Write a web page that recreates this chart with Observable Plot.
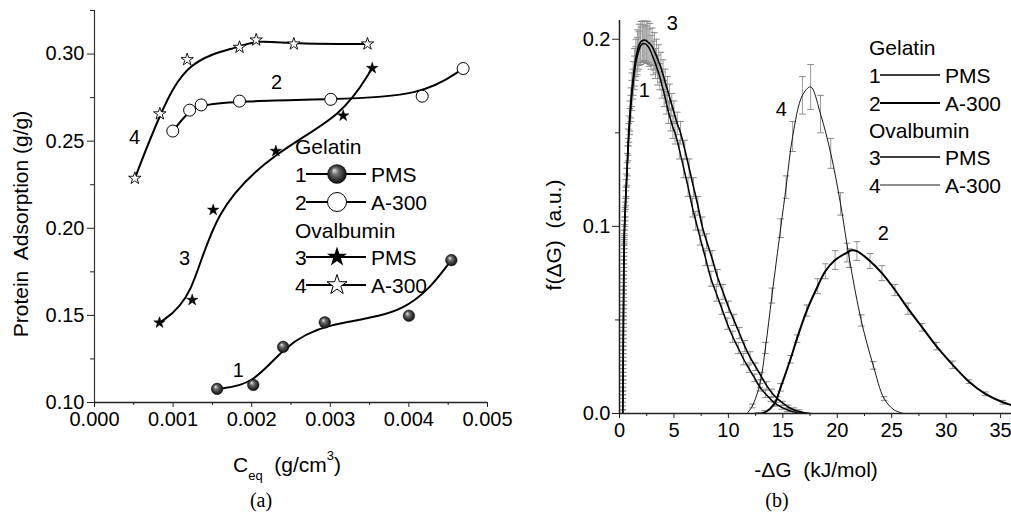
<!DOCTYPE html>
<html>
<head>
<meta charset="utf-8">
<script src="https://cdn.jsdelivr.net/npm/d3@7"></script>
<script src="https://cdn.jsdelivr.net/npm/@observablehq/plot@0.6"></script>
<style>
html,body{margin:0;padding:0;background:#fff;}
#wrap{position:relative;width:1011px;height:513px;overflow:hidden;background:#fff;}
#wrap > svg{position:absolute;top:0;}
</style>
</head>
<body>
<div id="wrap"></div>
<script>
// ================= Panel (a): adsorption isotherms =================
// [Ceq (g/cm3), adsorption (g/g)]
const gelatinPMS_a  = [[0.00156,0.1078],[0.00202,0.1101],[0.00240,0.1319],[0.00293,0.1460],[0.00400,0.1498],[0.00454,0.1817]];
const gelatinA300_a = [[0.000996,0.2558],[0.00121,0.2678],[0.001357,0.2708],[0.001845,0.2730],[0.003006,0.2740],[0.004169,0.2758],[0.00469,0.2917]];
const ovalPMS_a     = [[0.000827,0.1458],[0.001243,0.1588],[0.00151,0.2105],[0.002307,0.2443],[0.003164,0.2646],[0.003533,0.2919]];
const ovalA300_a    = [[0.000513,0.2287],[0.000831,0.2657],[0.001179,0.2968],[0.001845,0.3039],[0.002057,0.3081],[0.002536,0.3058],[0.003473,0.3058]];
const xTicksA = [0, 0.001, 0.002, 0.003, 0.004, 0.005];
const xMinorA = [0.0005, 0.0015, 0.0025, 0.0035, 0.0045];
const yTicksA = [0.10, 0.15, 0.20, 0.25, 0.30];
const yMinorA = [0.125, 0.175, 0.225, 0.275, 0.325];
const curveLabelsA = [
  {t: "1", x: 0.00183, y: 0.1183},
  {t: "2", x: 0.002316, y: 0.2838},
  {t: "3", x: 0.001145, y: 0.1825},
  {t: "4", x: 0.000509, y: 0.2518}
];

// ================= Panel (b): distribution functions =================
// [-dG (kJ/mol), f(dG), error]
const gelatinPMS_b = [
  [0.29,0.000,0.002],[0.30,0.006,0.004],[0.305,0.010,0.004],[0.31,0.014,0.004],[0.315,0.018,0.004],[0.32,0.022,0.004],
  [0.325,0.026,0.004],[0.33,0.030,0.004],[0.335,0.034,0.004],[0.34,0.038,0.004],[0.345,0.042,0.004],[0.35,0.046,0.004],
  [0.355,0.050,0.004],[0.36,0.054,0.004],[0.365,0.058,0.004],[0.37,0.062,0.004],[0.375,0.066,0.004],[0.38,0.070,0.004],
  [0.385,0.074,0.004],[0.39,0.078,0.004],[0.40,0.082,0.004],[0.41,0.086,0.004],[0.42,0.090,0.004],[0.43,0.094,0.004],
  [0.45,0.098,0.005],[0.48,0.103,0.005],[0.52,0.108,0.005],[0.56,0.114,0.005],[0.61,0.120,0.005],[0.66,0.126,0.005],
  [0.72,0.133,0.006],[0.79,0.141,0.006],[0.86,0.149,0.006],[0.94,0.156,0.007],[1.03,0.163,0.007],[1.13,0.170,0.008],
  [1.24,0.176,0.008],[1.36,0.182,0.009],[1.49,0.187,0.009],[1.63,0.191,0.010],[1.78,0.194,0.010],[1.95,0.1965,0.010],
  [2.18,0.1977,0.010],[2.35,0.1975,0.010],[2.5,0.197,0.010],[2.7,0.1955,0.010],[2.9,0.193,0.009],[3.1,0.190,0.009],
  [3.3,0.187,0.008],[3.5,0.1835,0.008],[3.7,0.180,0.007],[3.9,0.1755,0.007],[4.1,0.171,0.007],[4.3,0.166,0.006],
  [4.5,0.161,0.006],[4.7,0.157,0.006],[4.9,0.153,0.006],[5.1,0.150,0.006],[5.5,0.141,0.005],[5.9,0.131,0.005],
  [6.3,0.121,0.005],[6.7,0.110,0.005],[7.0,0.103,0.005],[7.4,0.094,0.004],[7.9,0.083,0.004],[8.4,0.072,0.004],
  [8.9,0.064,0.004],[9.4,0.056,0.003],[9.9,0.048,0.003],[10.4,0.041,0.003],[10.9,0.035,0.003],[11.4,0.029,0.003],
  [11.9,0.024,0.002],[12.4,0.019,0.002],[12.9,0.014,0.002],[13.4,0.0105,0.002],[13.9,0.0075,0.001],[14.4,0.005,0.001],
  [14.9,0.0033,0.001],[15.4,0.002,0.001],[15.9,0.001,0.001],[16.4,0.0003,0],[16.9,0,0]
];
const ovalPMS_b = [
  [0.30,0.000,0.002],[0.31,0.004,0.004],[0.315,0.008,0.004],[0.32,0.012,0.004],[0.325,0.016,0.004],[0.33,0.020,0.004],
  [0.335,0.024,0.004],[0.34,0.028,0.004],[0.345,0.032,0.004],[0.35,0.036,0.004],[0.355,0.040,0.004],[0.36,0.044,0.004],
  [0.365,0.048,0.004],[0.37,0.052,0.004],[0.375,0.056,0.004],[0.38,0.060,0.004],[0.385,0.064,0.004],[0.39,0.068,0.004],
  [0.395,0.072,0.004],[0.40,0.076,0.004],[0.41,0.080,0.004],[0.42,0.084,0.004],[0.43,0.088,0.004],[0.44,0.092,0.004],
  [0.45,0.096,0.005],[0.47,0.100,0.005],[0.50,0.105,0.005],[0.54,0.110,0.005],[0.58,0.116,0.005],[0.63,0.122,0.006],
  [0.68,0.128,0.006],[0.74,0.137,0.006],[0.80,0.145,0.007],[0.87,0.152,0.007],[0.95,0.159,0.008],[1.04,0.166,0.008],
  [1.14,0.173,0.009],[1.25,0.179,0.009],[1.37,0.185,0.010],[1.50,0.190,0.010],[1.65,0.194,0.011],[1.80,0.197,0.011],
  [1.95,0.1985,0.011],[2.10,0.1993,0.011],[2.27,0.1995,0.011],[2.45,0.1993,0.011],[2.6,0.1985,0.011],[2.8,0.1975,0.011],
  [3.0,0.196,0.010],[3.2,0.1935,0.010],[3.4,0.191,0.009],[3.6,0.188,0.009],[3.8,0.185,0.008],[4.0,0.181,0.008],
  [4.2,0.177,0.007],[4.4,0.173,0.007],[4.6,0.169,0.007],[4.8,0.165,0.006],[5.0,0.161,0.006],[5.3,0.155,0.006],
  [5.6,0.150,0.006],[6.0,0.141,0.005],[6.4,0.131,0.005],[6.8,0.121,0.005],[7.2,0.111,0.005],[7.6,0.100,0.005],
  [8.0,0.092,0.004],[8.5,0.083,0.004],[9.0,0.073,0.004],[9.5,0.065,0.004],[10.0,0.057,0.003],[10.5,0.050,0.003],
  [11.0,0.043,0.003],[11.5,0.036,0.003],[12.0,0.030,0.003],[12.5,0.025,0.002],[13.0,0.020,0.002],[13.5,0.015,0.002],
  [14.0,0.011,0.002],[14.5,0.008,0.001],[15.0,0.0055,0.001],[15.5,0.0035,0.001],[16.0,0.002,0.001],[16.5,0.001,0.001],
  [17.0,0.0004,0],[17.5,0,0]
];
const gelatinA300_b = [
  [12.5,0,0],[13.3,0.0005,0.001],[14.2,0.005,0.001],[14.8,0.014,0.002],[15.7,0.029,0.002],[16.3,0.040,0.002],
  [17.2,0.055,0.003],[18.2,0.068,0.004],[18.9,0.076,0.004],[19.8,0.082,0.005],[20.9,0.086,0.005],[21.3,0.0872,0],
  [21.8,0.0868,0.005],[23.0,0.0815,0.004],[24.1,0.075,0.004],[25.3,0.066,0.003],[26.5,0.056,0.003],[27.8,0.046,0.002],
  [29.1,0.036,0.002],[30.6,0.026,0.002],[32.1,0.017,0.001],[33.6,0.0105,0.001],[35.2,0.006,0.001],[36.6,0.0035,0.001]
];
const ovalA300_b = [
  [11.7,0,0],[12.2,0.004,0.001],[12.9,0.016,0.002],[13.4,0.035,0.003],[14.0,0.063,0.004],[14.8,0.099,0.005],
  [15.3,0.121,0.006],[15.9,0.148,0.008],[16.8,0.170,0.010],[17.55,0.1745,0.012],[18.46,0.160,0.010],[19.4,0.139,0.008],
  [20.3,0.112,0.006],[21.1,0.083,0.005],[22.2,0.0497,0.003],[23.3,0.0257,0.002],[24.3,0.008,0.001],[25.2,0.002,0],[26.1,0,0]
];
const xTicksB = [0, 5, 10, 15, 20, 25, 30, 35];
const xMinorB = [2.5, 7.5, 12.5, 17.5, 22.5, 27.5, 32.5];
const yTicksB = [0, 0.1, 0.2];
const yMinorB = [0.05, 0.15];
const curveLabelsB = [
  {t: "3", x: 4.84, y: 0.2084},
  {t: "1", x: 2.27, y: 0.1727},
  {t: "4", x: 14.85, y: 0.1624},
  {t: "2", x: 24.22, y: 0.0961}
];

// legend texts
const legendGroups = ["Gelatin", "Ovalbumin"];
const legendItems = [
  {n: "1", label: "PMS"}, {n: "2", label: "A-300"}, {n: "3", label: "PMS"}, {n: "4", label: "A-300"}
];

// ================= drawing =================
const FONT = '"Liberation Sans", Arial, Helvetica, sans-serif';
const wrap = document.getElementById("wrap");
const X = d => d[0], Y = d => d[1];
const capSym = {draw(ctx, size) { const w = Math.sqrt(size / Math.PI); ctx.moveTo(-w, 0); ctx.lineTo(w, 0); }};
const noText = () => "";

const plotA = Plot.plot({
  width: 500, height: 440,
  marginLeft: 94, marginRight: 13, marginTop: 10, marginBottom: 38,
  style: {fontFamily: FONT, fontSize: "20px", color: "#222", background: "transparent", overflow: "visible"},
  x: {domain: [0, 0.005]},
  y: {domain: [0.1, 0.325]},
  marks: [
    Plot.axisX({ticks: xTicksA, tickSize: 5, tickPadding: 4, tickFormat: d3.format(".3f"), label: null, fill: "#000"}),
    Plot.axisX({ticks: xMinorA, tickSize: 3, tickFormat: noText, label: null}),
    Plot.axisY({ticks: yTicksA, tickSize: 7, tickPadding: 3, tickFormat: d3.format(".2f"), label: null, fill: "#000"}),
    Plot.axisY({ticks: yMinorA, tickSize: 4, tickFormat: noText, label: null}),
    Plot.ruleX([0], {stroke: "#333", strokeWidth: 1.2}),
    Plot.ruleY([0.1], {stroke: "#222", strokeWidth: 1.5}),
    Plot.line(gelatinPMS_a,  {x: X, y: Y, curve: "basis", stroke: "#000", strokeWidth: 2}),
    Plot.line(gelatinA300_a, {x: X, y: Y, curve: "basis", stroke: "#000", strokeWidth: 2}),
    Plot.line(ovalPMS_a,     {x: X, y: Y, curve: "basis", stroke: "#000", strokeWidth: 2}),
    Plot.line(ovalA300_a,    {x: X, y: Y, curve: "basis", stroke: "#000", strokeWidth: 2}),
    Plot.dot(gelatinPMS_a,  {x: X, y: Y, r: 5.8, fill: "url(#sphere)", stroke: "#111", strokeWidth: 0.5}),
    Plot.dot(gelatinA300_a, {x: X, y: Y, r: 6, fill: "#fff", stroke: "#000", strokeWidth: 1}),
    Plot.dot(ovalPMS_a,     {x: X, y: Y, r: 3.6, symbol: "star", fill: "#000", stroke: "#000", strokeWidth: 0.5}),
    Plot.dot(ovalA300_a,    {x: X, y: Y, r: 3.9, symbol: "star", fill: "#fff", stroke: "#000", strokeWidth: 0.9}),
    Plot.text(curveLabelsA, {x: "x", y: "y", text: "t", fill: "#000", fontSize: 20})
  ]
});
plotA.style.left = "0px";
wrap.appendChild(plotA);

const seriesB = [
  {data: gelatinPMS_b, w: 1.5},
  {data: ovalPMS_b, w: 1.6},
  {data: gelatinA300_b, w: 2},
  {data: ovalA300_b, w: 0.9}
];
const errMarks = [];
for (const s of seriesB) {
  const withErr = s.data.filter(d => d[2] > 0);
  errMarks.push(Plot.ruleX(withErr, {x: X, y1: d => d[1] - d[2], y2: d => d[1] + d[2], stroke: "#9c9c9c", strokeWidth: 1, clip: true}));
  errMarks.push(Plot.dot(withErr, {x: X, y: d => d[1] + d[2], symbol: capSym, r: 3.3, fill: "none", stroke: "#8a8a8a", strokeWidth: 1, clip: true}));
  errMarks.push(Plot.dot(withErr, {x: X, y: d => d[1] - d[2], symbol: capSym, r: 3.3, fill: "none", stroke: "#8a8a8a", strokeWidth: 1, clip: true}));
}
const lineMarks = seriesB.map(s => Plot.line(s.data, {x: X, y: Y, curve: "catmull-rom", stroke: "#000", strokeWidth: s.w, clip: true}));

const plotB = Plot.plot({
  width: 511, height: 450,
  marginLeft: 119, marginRight: 0, marginTop: 20, marginBottom: 37,
  style: {fontFamily: FONT, fontSize: "20px", color: "#222", background: "transparent", overflow: "visible"},
  x: {domain: [0, 36]},
  y: {domain: [0, 0.21]},
  marks: [
    Plot.axisX({ticks: xTicksB, tickSize: 5, tickPadding: 4, tickFormat: d3.format("d"), label: null, fill: "#000"}),
    Plot.axisX({ticks: xMinorB, tickSize: 3, tickFormat: noText, label: null}),
    Plot.axisY({ticks: yTicksB, tickSize: 7, tickPadding: 2, tickFormat: d3.format(".1f"), label: null, fill: "#000"}),
    Plot.axisY({ticks: yMinorB, tickSize: 4, tickFormat: noText, label: null}),
    ...errMarks,
    ...lineMarks,
    Plot.ruleX([0], {stroke: "#222", strokeWidth: 1.5}),
    Plot.ruleY([0], {stroke: "#222", strokeWidth: 1.5}),
    Plot.text(curveLabelsB, {x: "x", y: "y", text: "t", fill: "#000", fontSize: 20})
  ]
});
plotB.style.left = "500px";
wrap.appendChild(plotB);

// ---------- overlay: titles, legends, panel letters ----------
const ov = d3.select(wrap).append("svg")
  .attr("width", 1011).attr("height", 513)
  .style("left", "0px").style("pointer-events", "none")
  .style("font-family", FONT).style("font-size", "21px");
const grad = ov.append("defs").append("radialGradient").attr("id", "sphere")
  .attr("cx", "50%").attr("cy", "50%").attr("r", "55%").attr("fx", "35%").attr("fy", "30%");
grad.append("stop").attr("offset", "0%").attr("stop-color", "#e8e8e8");
grad.append("stop").attr("offset", "35%").attr("stop-color", "#6a6a6a");
grad.append("stop").attr("offset", "100%").attr("stop-color", "#000");

// axis titles
ov.append("text").attr("transform", "translate(28,224) rotate(-90)").attr("text-anchor", "middle")
  .style("white-space", "pre").text("Protein  Adsorption (g/g)");
const xt = ov.append("text").attr("x", 233).attr("y", 472).style("white-space", "pre");
xt.append("tspan").text("C");
xt.append("tspan").attr("dy", 8).style("font-size", "13px").text("eq");
xt.append("tspan").attr("dy", -8).text("  (g/cm");
xt.append("tspan").attr("dy", -12).style("font-size", "13px").text("3");
xt.append("tspan").attr("dy", 12).text(")");
ov.append("text").attr("transform", "translate(561,235) rotate(-90)").attr("text-anchor", "middle")
  .style("white-space", "pre").text("f(\u0394G)  (a.u.)");
ov.append("text").attr("x", 816).attr("y", 477).attr("text-anchor", "middle")
  .style("white-space", "pre").text("-\u0394G  (kJ/mol)");
ov.append("text").attr("x", 261).attr("y", 507).attr("text-anchor", "middle")
  .style("font-family", '"Liberation Serif", "Times New Roman", serif').style("font-size", "20px").text("(a)");
ov.append("text").attr("x", 777).attr("y", 507).attr("text-anchor", "middle")
  .style("font-family", '"Liberation Serif", "Times New Roman", serif').style("font-size", "20px").text("(b)");

// legend (a)
const legA = {x: 295, lineX1: 306, lineX2: 366, mx: 337, tx: 371, rows: [146, 174, 202, 230, 257, 285]};
function legendRowsLayout(L) {
  return [
    {kind: "head", text: legendGroups[0], y: L.rows[0]},
    {kind: "item", item: legendItems[0], idx: 0, y: L.rows[1]},
    {kind: "item", item: legendItems[1], idx: 1, y: L.rows[2]},
    {kind: "head", text: legendGroups[1], y: L.rows[3]},
    {kind: "item", item: legendItems[2], idx: 2, y: L.rows[4]},
    {kind: "item", item: legendItems[3], idx: 3, y: L.rows[5]}
  ];
}
for (const r of legendRowsLayout(legA)) {
  if (r.kind === "head") { ov.append("text").attr("x", legA.x).attr("y", r.y + 7.5).text(r.text); continue; }
  ov.append("text").attr("x", legA.x).attr("y", r.y + 7.5).text(r.item.n);
  ov.append("line").attr("x1", legA.lineX1).attr("x2", legA.lineX2).attr("y1", r.y).attr("y2", r.y).attr("stroke", "#000").attr("stroke-width", 2);
  if (r.idx === 0) ov.append("circle").attr("cx", legA.mx).attr("cy", r.y).attr("r", 9.5).attr("fill", "url(#sphere)").attr("stroke", "#111").attr("stroke-width", 0.5);
  if (r.idx === 1) ov.append("circle").attr("cx", legA.mx).attr("cy", r.y).attr("r", 9.5).attr("fill", "#fff").attr("stroke", "#000").attr("stroke-width", 1);
  if (r.idx === 2) ov.append("path").attr("transform", `translate(${legA.mx},${r.y})`).attr("d", d3.symbol(d3.symbolStar, 125)()).attr("fill", "#000");
  if (r.idx === 3) ov.append("path").attr("transform", `translate(${legA.mx},${r.y})`).attr("d", d3.symbol(d3.symbolStar, 125)()).attr("fill", "#fff").attr("stroke", "#000").attr("stroke-width", 1);
  ov.append("text").attr("x", legA.tx).attr("y", r.y + 7.5).text(r.item.label);
}

// legend (b)
const legB = {x: 869, lineX1: 880, lineX2: 940, tx: 945, rows: [47, 75, 103, 130, 157, 185]};
const legBWidths = [1.5, 2, 1.6, 0.9];
for (const r of legendRowsLayout(legB)) {
  if (r.kind === "head") { ov.append("text").attr("x", legB.x).attr("y", r.y + 7.5).text(r.text); continue; }
  ov.append("text").attr("x", legB.x).attr("y", r.y + 7.5).text(r.item.n);
  ov.append("line").attr("x1", legB.lineX1).attr("x2", legB.lineX2).attr("y1", r.y).attr("y2", r.y).attr("stroke", "#000").attr("stroke-width", legBWidths[r.idx]);
  ov.append("text").attr("x", legB.tx).attr("y", r.y + 7.5).text(r.item.label);
}
</script>
</body>
</html>
